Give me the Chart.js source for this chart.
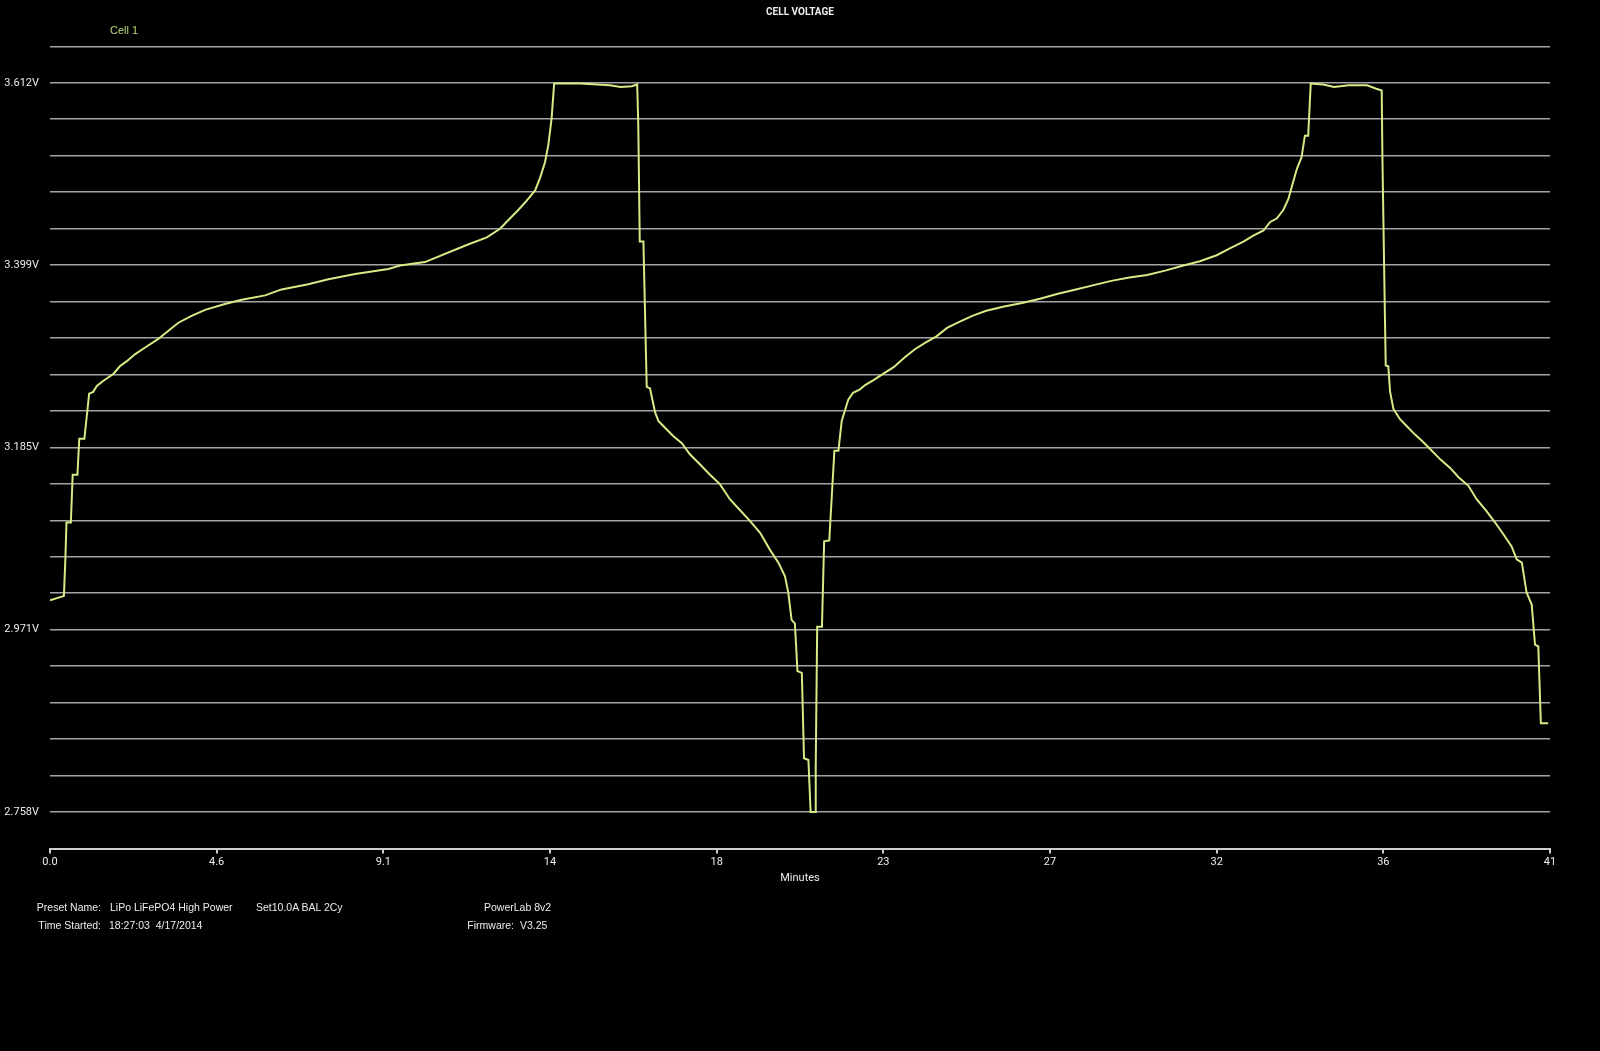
<!DOCTYPE html>
<html>
<head>
<meta charset="utf-8">
<script src="https://cdn.jsdelivr.net/npm/chart.js@4/dist/chart.umd.min.js"></script>
<style>
  html, body { margin: 0; padding: 0; background: #000; }
  #wrap { position: relative; width: 1600px; height: 1051px; background: #000; }
  .info {
    position: absolute;
    font: 10.5px "Liberation Sans", Arial, sans-serif;
    line-height: 13px;
    color: #ececec;
    white-space: pre;
  }
  .info.lbl { text-align: right; }
  #cellLabel { color: #b8d87c; font-size: 11px; }
</style>
</head>
<body>
<div id="wrap">
  <canvas id="voltChart"></canvas>
  <div class="info" id="cellLabel" style="left:110px;top:24px;">Cell 1</div>
  <div class="info lbl" style="left:0;width:101px;top:901px;">Preset Name:</div>
  <div class="info" style="left:110px;top:901px;">LiPo LiFePO4 High Power</div>
  <div class="info" style="left:256px;top:901px;">Set10.0A BAL 2Cy</div>
  <div class="info" style="left:484px;top:901px;">PowerLab 8v2</div>
  <div class="info lbl" style="left:0;width:101px;top:919px;">Time Started:</div>
  <div class="info" style="left:109px;top:919px;">18:27:03  4/17/2014</div>
  <div class="info lbl" style="left:400px;width:114px;top:919px;">Firmware:</div>
  <div class="info" style="left:520px;top:919px;">V3.25</div>
</div>
<script>
// -------------------- DATA --------------------
const minutes = [
  0.00, 0.30, 0.38, 0.42, 0.45, 0.57, 0.62, 0.75, 0.80, 0.94,
  1.07, 1.18, 1.28, 1.46, 1.73, 1.91, 2.10, 2.32, 2.60, 2.96,
  3.28, 3.51, 3.87, 4.24, 4.78, 5.24, 5.88, 6.33, 7.06, 7.61,
  8.34, 9.25, 9.57, 10.25, 10.48, 11.39, 11.94, 12.30, 12.57, 12.80,
  13.03, 13.26, 13.39, 13.53, 13.62, 13.71, 13.78, 14.50, 15.30, 15.60,
  15.90, 16.05, 16.08, 16.12, 16.22, 16.31, 16.40, 16.54, 16.63, 16.81,
  17.04, 17.27, 17.49, 17.77, 18.04, 18.31, 18.59, 18.85, 19.13, 19.41,
  19.68, 19.91, 20.09, 20.18, 20.27, 20.36, 20.43, 20.55, 20.61, 20.73,
  20.79, 20.91, 20.93, 20.97, 21.10, 21.16, 21.30, 21.44, 21.55, 21.64,
  21.82, 21.95, 22.14, 22.28, 22.52, 22.77, 23.06, 23.35, 23.64, 23.94,
  24.23, 24.52, 24.81, 25.21, 25.59, 26.08, 26.57, 27.06, 27.55, 28.04,
  28.53, 29.01, 29.50, 29.99, 30.48, 30.98, 31.43, 31.89, 32.25, 32.62,
  32.89, 33.17, 33.35, 33.53, 33.71, 33.85, 33.94, 34.08, 34.21, 34.30,
  34.39, 34.46, 34.80, 35.10, 35.50, 36.00, 36.25, 36.40, 36.42, 36.45,
  36.48, 36.51, 36.58, 36.63, 36.72, 36.90, 37.08, 37.31, 37.54, 37.77,
  38.00, 38.27, 38.50, 38.77, 39.00, 39.27, 39.50, 39.73, 39.95, 40.09,
  40.23, 40.36, 40.50, 40.59, 40.68, 40.75, 40.95
];

const cellVolts = [
  3.006, 3.010, 3.011, 3.054, 3.097, 3.097, 3.153, 3.153, 3.195, 3.195,
  3.248, 3.250, 3.257, 3.263, 3.271, 3.280, 3.286, 3.294, 3.302, 3.312,
  3.323, 3.331, 3.339, 3.346, 3.353, 3.358, 3.363, 3.370, 3.376, 3.382,
  3.388, 3.394, 3.398, 3.402, 3.406, 3.422, 3.431, 3.441, 3.453, 3.463,
  3.474, 3.486, 3.500, 3.519, 3.539, 3.570, 3.611, 3.611, 3.609, 3.607,
  3.608, 3.610, 3.562, 3.426, 3.426, 3.256, 3.254, 3.226, 3.216, 3.208,
  3.198, 3.190, 3.177, 3.165, 3.153, 3.142, 3.124, 3.112, 3.099, 3.085,
  3.065, 3.050, 3.034, 3.015, 2.983, 2.979, 2.923, 2.921, 2.821, 2.819,
  2.758, 2.758, 2.811, 2.975, 2.975, 3.075, 3.076, 3.181, 3.181, 3.216,
  3.241, 3.249, 3.253, 3.258, 3.264, 3.271, 3.279, 3.290, 3.300, 3.308,
  3.315, 3.325, 3.331, 3.339, 3.345, 3.350, 3.354, 3.359, 3.365, 3.370,
  3.375, 3.380, 3.384, 3.387, 3.392, 3.398, 3.403, 3.410, 3.418, 3.426,
  3.433, 3.439, 3.449, 3.453, 3.463, 3.476, 3.490, 3.511, 3.525, 3.550,
  3.550, 3.611, 3.610, 3.607, 3.609, 3.609, 3.605, 3.603, 3.523, 3.441,
  3.359, 3.281, 3.280, 3.250, 3.230, 3.218, 3.210, 3.200, 3.191, 3.181,
  3.171, 3.161, 3.150, 3.140, 3.124, 3.110, 3.097, 3.083, 3.069, 3.054,
  3.050, 3.015, 3.001, 2.954, 2.952, 2.862, 2.862
];

const xTickLabels = ["0.0", "4.6", "9.1", "14", "18", "23", "27", "32", "36", "41"];
const xMax = 41;
const yTickLabels = ["2.758V", "2.971V", "3.185V", "3.399V", "3.612V"];
const yLow = 2.758;
const yHigh = 3.612;
const minorPerMajor = 5;

// -------------------- SCALE HELPERS --------------------
const yStep = (yHigh - yLow) / ((yTickLabels.length - 1) * minorPerMajor);
const yMin = yLow - yStep;
const yMax = yHigh + yStep;
const gridCount = Math.round((yMax - yMin) / yStep);

const lineColor = "#d4ec86";
const textColor = "#ececec";
const tickFont = { family: "Roboto, 'Liberation Sans', Arial, sans-serif", size: 11 };

// -------------------- CHART --------------------
const ctx = document.getElementById("voltChart").getContext("2d");
new Chart(ctx, {
  type: "line",
  data: {
    datasets: [{
      label: "Cell 1",
      data: minutes.map((t, i) => ({ x: t, y: cellVolts[i] })),
      borderColor: lineColor,
      borderWidth: 2,
      pointRadius: 0,
      tension: 0,
      fill: false
    }]
  },
  options: {
    responsive: true,
    maintainAspectRatio: false,
    animation: false,
    layout: { padding: { left: 0, right: 50, top: 0, bottom: 0 } },
    plugins: {
      legend: { display: false },
      tooltip: { enabled: false },
      title: {
        display: true,
        fullSize: false,
        text: "CELL VOLTAGE",
        color: textColor,
        font: { ...tickFont, size: 10, weight: "bold" },
        padding: { top: 6, bottom: 28.3 }
      }
    },
    scales: {
      x: {
        type: "linear",
        min: 0,
        max: xMax,
        afterFit: (scale) => { scale.height = 202.5; },
        afterBuildTicks: (scale) => {
          scale.ticks = xTickLabels.map((_, i) => ({ value: (xMax * i) / (xTickLabels.length - 1) }));
        },
        ticks: {
          color: textColor,
          font: tickFont,
          padding: 2,
          maxRotation: 0,
          autoSkip: false,
          callback: (value, index) => xTickLabels[index]
        },
        grid: {
          drawOnChartArea: false,
          drawTicks: true,
          tickLength: 5,
          color: "#cfcfcf",
          lineWidth: 2
        },
        border: { display: true, color: "#cfcfcf", width: 2 },
        title: {
          display: true,
          text: "Minutes",
          color: textColor,
          font: tickFont,
          padding: { top: 0, bottom: 166.4 }
        }
      },
      y: {
        type: "linear",
        min: yMin,
        max: yMax,
        afterFit: (scale) => { scale.width = 50; },
        afterBuildTicks: (scale) => {
          const ticks = [];
          for (let i = 0; i <= gridCount; i++) ticks.push({ value: yMin + i * yStep });
          scale.ticks = ticks;
        },
        ticks: {
          color: textColor,
          font: tickFont,
          padding: 11,
          autoSkip: false,
          callback: (value, index) => {
            const k = index - 1;
            if (k >= 0 && k % minorPerMajor === 0) return yTickLabels[k / minorPerMajor];
            return "";
          }
        },
        grid: {
          drawTicks: false,
          color: "#a4a4a4",
          lineWidth: 1.6
        },
        border: { display: false }
      }
    }
  }
});
</script>
</body>
</html>
